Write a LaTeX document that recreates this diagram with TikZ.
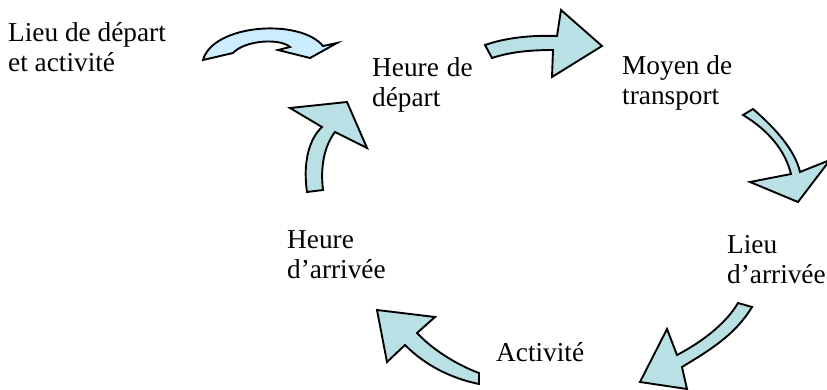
\documentclass[tikz,border=0pt]{standalone}
\usepackage{fontspec}
\setmainfont{Liberation Serif}
\definecolor{teal1}{RGB}{185,224,228}
\definecolor{sky1}{RGB}{204,236,255}
\begin{document}
\begin{tikzpicture}[x=1pt,y=-1pt,
  arr/.style={draw=black,line width=1.9pt,line join=miter,fill=teal1},
  lbl/.style={anchor=base west,inner sep=0pt,font=\fontsize{27.3}{30}\selectfont}]
\useasboundingbox (0,0) rectangle (827,389);
% top-left curved arrow
\draw[arr,fill=sky1] (203,60) -- (233,53) .. controls (245,40) and (280,38) .. (290,47)
  -- (278,50) -- (310,58) -- (337,43) -- (323,46)
  .. controls (300,18) and (213,24) .. (203,60) -- cycle;
% arrow heure de depart -> moyen
\draw[arr] (485,45) -- (492,58) .. controls (510,52) and (530,50) .. (553,50)
  -- (552,77) -- (602,46) -- (561,10) -- (557,36)
  .. controls (530,35) and (505,38) .. (485,45) -- cycle;
% moyen -> lieu d'arrivee
\draw[arr] (743,115) -- (753,109) .. controls (775,128) and (795,150) .. (800,172)
  -- (830,160) -- (798,202) -- (750,182) -- (791,174)
  .. controls (785,150) and (768,130) .. (743,115) -- cycle;
% lieu d'arrivee -> activite
\draw[arr] (738,303) -- (752,307) .. controls (735,335) and (710,350) .. (682,367)
  -- (687,389) -- (640,382) -- (667,329) -- (677,355)
  .. controls (700,343) and (725,325) .. (738,303) -- cycle;
% activite -> heure d'arrivee
\draw[arr] (479,373) -- (479,384) .. controls (450,378) and (425,365) .. (405,345)
  -- (387,362) -- (377,310) -- (435,317) -- (417,333)
  .. controls (435,352) and (460,366) .. (479,373) -- cycle;
% heure d'arrivee -> heure de depart
\draw[arr] (307,192) .. controls (303,165) and (308,140) .. (322,127)
  -- (290,108) -- (347,102) -- (367,148) -- (335,132)
  .. controls (325,145) and (320,165) .. (323,190) -- cycle;
% labels
\node[lbl] (ld1) at (8,41) {Lieu de départ};
\node[lbl] (ld2) at (8,71) {et activité};
\node[lbl] (hd1) at (372,76) {Heure\hspace{8pt}de};
\node[lbl] (hd2) at (372,106) {départ};
\node[lbl] (mt1) at (622,74) {Moyen de};
\node[lbl] (mt2) at (622,104) {transport};
\node[lbl] (la1) at (727,253) {Lieu};
\node[lbl] (la2) at (727,283) {d’arrivée};
\node[lbl] (ha1) at (287,248) {Heure};
\node[lbl] (ha2) at (287,278) {d’arrivée};
\node[lbl] (ac) at (496,361) {Activité};
\end{tikzpicture}
\end{document}
